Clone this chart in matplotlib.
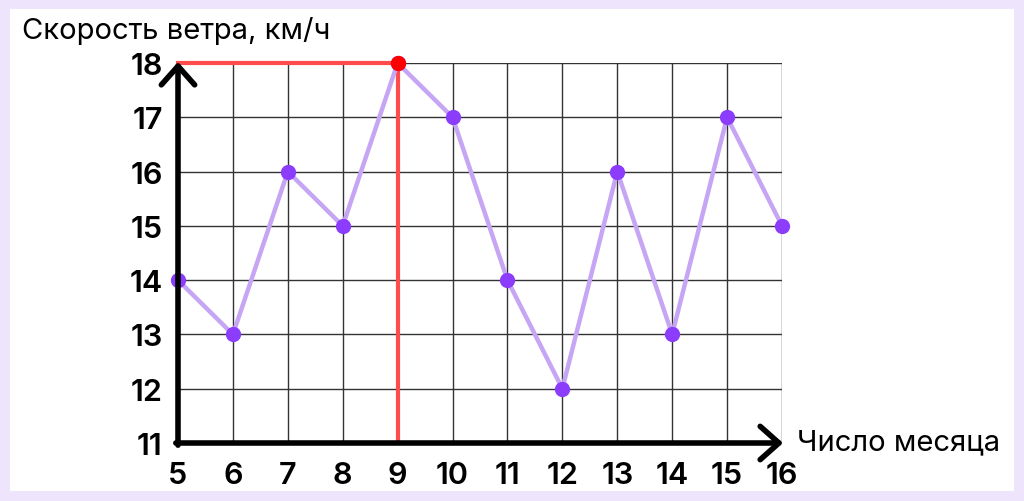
import matplotlib
matplotlib.use("Agg")
import matplotlib.pyplot as plt
from matplotlib.patches import Rectangle

days = [5, 6, 7, 8, 9, 10, 11, 12, 13, 14, 15, 16]
speed = [14, 13, 16, 15, 18, 17, 14, 12, 16, 13, 17, 15]
y_ticks = [11, 12, 13, 14, 15, 16, 17, 18]
highlight_day = 9
highlight_speed = 18
title = "Скорость ветра, км/ч"
xlabel = "Число месяца"

plt.rcParams['font.family'] = ['Inter', 'DejaVu Sans']

fig = plt.figure(figsize=(10.24, 5.02), dpi=100)
fig.patch.set_facecolor('#EEE5FC')
fig.patches.append(Rectangle((10/1024, 1 - 492/502), 1004/1024, 482/502,
                             transform=fig.transFigure, facecolor='white',
                             edgecolor='none', zorder=-5))

ax = fig.add_axes([178/1024, 1 - 444/502, 604/1024, 380/502])
ax.set_zorder(2)
ax.set_facecolor('none')
ax.set_xlim(days[0], days[-1])
ax.set_ylim(y_ticks[0], y_ticks[-1])

for x in days:
    ax.plot([x, x], [y_ticks[0], y_ticks[-1]], color='#333333', lw=1, zorder=1)
for y in y_ticks:
    ax.plot([days[0], days[-1]], [y, y], color='#333333', lw=1, zorder=1)

# red helper lines
ax.plot([highlight_day, highlight_day], [y_ticks[0], highlight_speed], color='#FF4B4B', lw=3, zorder=3, clip_on=False)
ax.plot([days[0], highlight_day], [highlight_speed, highlight_speed], color='#FF4B4B', lw=3, zorder=3, clip_on=False)

ax.plot(days, speed, color='#C6A6F4', lw=3.2, zorder=4, clip_on=False)
ax.plot(days, speed, 'o', color='#8B3DFB', ms=11, zorder=5, clip_on=False, mec='none')
ax.plot([highlight_day], [highlight_speed], 'o', color='#FF0000', ms=11, zorder=6, clip_on=False, mec='none')

# axes with arrows
arrow = dict(arrowstyle='->,head_length=1.35,head_width=1.2', lw=4, color='black',
             shrinkA=0, shrinkB=0, mutation_scale=10, capstyle='round', joinstyle='round')
ax.annotate('', xy=(days[-1] + 0.02, y_ticks[0]), xytext=(days[0] - 0.04, y_ticks[0]),
            arrowprops=arrow, annotation_clip=False, zorder=7)
ax.annotate('', xy=(days[0], y_ticks[-1] + 0.02), xytext=(days[0], y_ticks[0] - 0.04),
            arrowprops=arrow, annotation_clip=False, zorder=7)

for s in ax.spines.values():
    s.set_visible(False)
ax.set_xticks(days)
ax.set_yticks(y_ticks)
ax.set_xticklabels([str(d) for d in days], fontsize=22, fontweight='semibold')
ax.set_yticklabels([str(v) for v in y_ticks], fontsize=22, fontweight='semibold')
ax.tick_params(length=0)
ax.tick_params(axis='y', pad=11)
ax.tick_params(axis='x', pad=13)

fig.text(22/1024, 1 - 31/502, title, fontsize=21, ha='left', va='center')
fig.text(797/1024, 1 - 443/502, xlabel, fontsize=21, ha='left', va='center')

fig.savefig('out.png', dpi=100)
